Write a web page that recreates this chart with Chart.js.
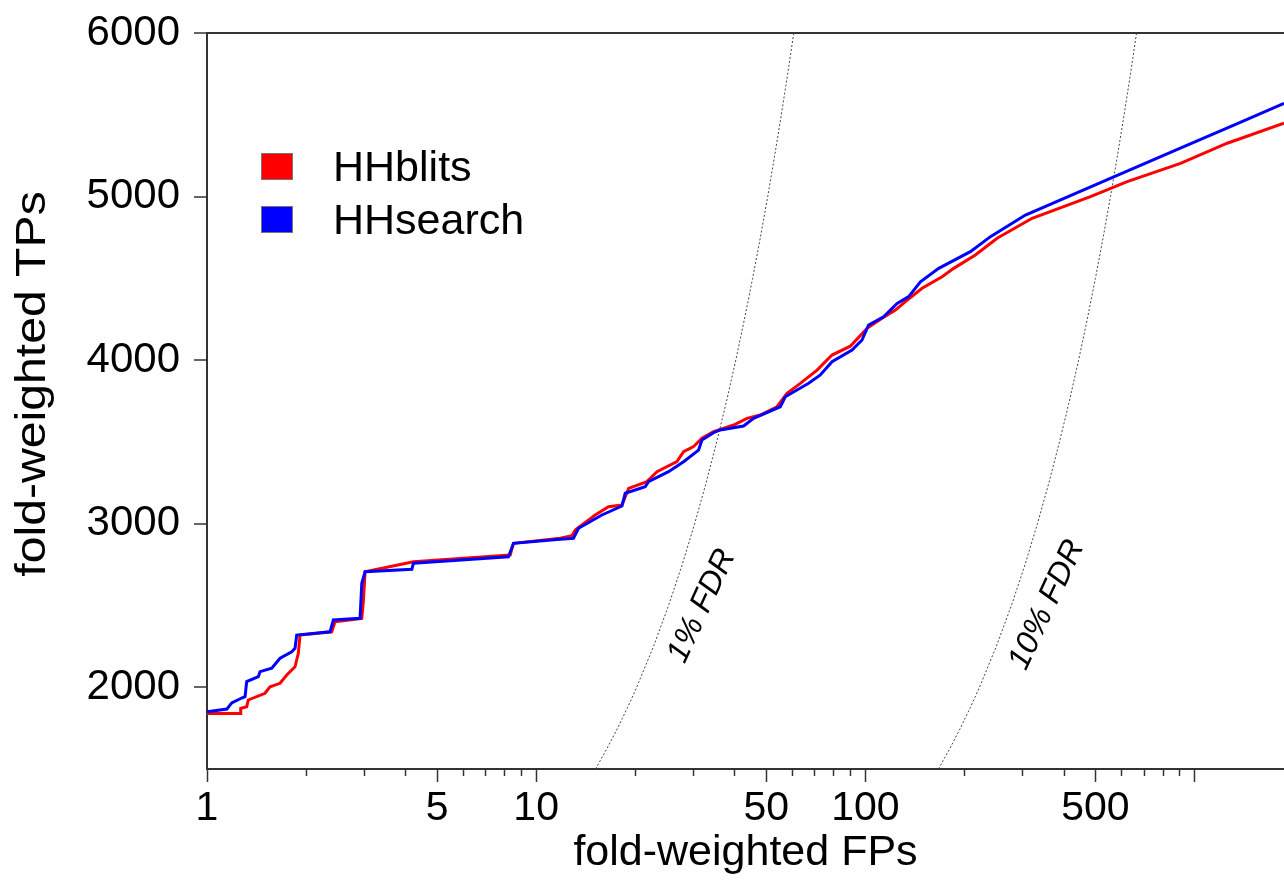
<!DOCTYPE html>
<html>
<head>
<meta charset="utf-8">
<script src="https://cdn.jsdelivr.net/npm/chart.js@4/dist/chart.umd.min.js"></script>
<style>
  html, body { margin: 0; padding: 0; background: #fff; }
  #wrap { width: 1284px; height: 882px; }
</style>
</head>
<body>
<div id="wrap"><canvas id="rocChart" width="1284" height="882"></canvas></div>
<script>
// ROC-like curve: fold-weighted TPs vs fold-weighted FPs (log x)

const fpTicks = [1, 2, 3, 4, 5, 6, 7, 8, 9, 10, 20, 30, 40, 50, 60, 70, 80, 90,
                 100, 200, 300, 400, 500, 600, 700, 800, 900, 1000];
const fpLabeled = [1, 5, 10, 50, 100, 500];
const fpLongTicks = [1, 5, 10, 50, 100, 500, 1000];
const tpTicks = [2000, 3000, 4000, 5000, 6000];

const hhblitsFP = [1, 1.266, 1.266, 1.32, 1.335, 1.50, 1.554, 1.667, 1.747, 1.851,
  1.894, 1.917, 2.393, 2.449, 2.953, 2.987, 3.022, 4.237, 8.337, 8.531,
  11.83, 12.84, 13.14, 15.11, 16.59, 18.22, 19.09, 21.70, 23.28, 26.77,
  28.04, 30.07, 31.89, 34.58, 39.80, 43.70, 47.97, 53.90, 57.81, 63.45,
  71.33, 79.20, 90.0, 101.2, 112.4, 123.4, 132.3, 148.7, 171.1, 185.5,
  215.9, 251.4, 321.1, 483.0, 624.4, 906.6, 1257, 1870];
const hhblitsTP = [1840, 1840, 1871, 1881, 1922, 1963, 2003, 2024, 2075, 2125,
  2207, 2319, 2339, 2401, 2421, 2533, 2706, 2767, 2808, 2880,
  2911, 2926, 2961, 3053, 3104, 3114, 3216, 3257, 3318, 3379,
  3440, 3471, 3522, 3562, 3603, 3644, 3664, 3715, 3797, 3858,
  3939, 4031, 4085, 4194, 4256, 4306, 4357, 4439, 4510, 4561,
  4643, 4745, 4867, 4999, 5091, 5203, 5326, 5448];

const hhsearchFP = [1, 1.150, 1.189, 1.275, 1.305, 1.320, 1.432, 1.449, 1.573, 1.667,
  1.809, 1.851, 1.873, 2.365, 2.420, 2.917, 2.953, 3.022, 4.190, 4.237,
  8.239, 8.531, 11.83, 12.98, 13.45, 15.84, 18.22, 18.64, 21.44, 21.94,
  25.24, 28.04, 31.14, 31.89, 34.58, 36.25, 42.67, 45.77, 55.15, 57.13,
  61.99, 67.25, 72.99, 79.20, 91.12, 97.72, 102.3, 113.6, 124.9, 135.4,
  147.0, 167.1, 208.5, 239.9, 306.4, 568.5, 928.0, 1317, 1870];
const hhsearchTP = [1850, 1867, 1904, 1934, 1942, 2034, 2064, 2095, 2116, 2177,
  2217, 2238, 2319, 2339, 2411, 2421, 2635, 2706, 2721, 2758,
  2798, 2880, 2904, 2911, 2972, 3053, 3108, 3186, 3226, 3257,
  3318, 3379, 3450, 3512, 3556, 3573, 3597, 3644, 3715, 3776,
  3817, 3858, 3909, 3990, 4062, 4123, 4215, 4265, 4347, 4388,
  4479, 4561, 4663, 4755, 4887, 5121, 5305, 5437, 5570];

// FDR reference curves (TP = 99*FP and TP = 9*FP)
const fdrTP = [1500, 1625, 1750, 1875, 2000, 2250, 2500, 2750, 3000, 3250, 3500,
  3750, 4000, 4250, 4500, 4750, 5000, 5250, 5500, 5750, 6000];
const fdr1FP = [15.15, 16.41, 17.68, 18.94, 20.20, 22.73, 25.25, 27.78, 30.30, 32.83, 35.35,
  37.88, 40.40, 42.93, 45.45, 47.98, 50.51, 53.03, 55.56, 58.08, 60.61];
const fdr10FP = [166.7, 180.6, 194.4, 208.3, 222.2, 250.0, 277.8, 305.6, 333.3, 361.1, 388.9,
  416.7, 444.4, 472.2, 500.0, 527.8, 555.6, 583.3, 611.1, 638.9, 666.7];

const FONT = '"Liberation Sans", Arial, Helvetica, sans-serif';
const AXIS = '#333';

const pts = (xs, ys) => xs.map((x, i) => ({ x: x, y: ys[i] }));

const extrasPlugin = {
  id: 'extras',
  afterDraw(chart) {
    const ctx = chart.ctx;
    const xs = chart.scales.x;
    const area = chart.chartArea;

    // short minor ticks on the x axis
    ctx.save();
    ctx.strokeStyle = AXIS;
    ctx.lineWidth = 1.5;
    fpTicks.filter(v => !fpLongTicks.includes(v)).forEach(v => {
      const px = Math.round(xs.getPixelForValue(v)) + 0.5;
      ctx.beginPath();
      ctx.moveTo(px, area.bottom);
      ctx.lineTo(px, area.bottom + 7);
      ctx.stroke();
    });
    ctx.restore();

    // y axis title (slightly stretched along its length, as in the source)
    ctx.save();
    ctx.font = '43px ' + FONT;
    ctx.fillStyle = '#000';
    ctx.textAlign = 'center';
    ctx.textBaseline = 'middle';
    ctx.translate(33, 384);
    ctx.rotate(-Math.PI / 2);
    ctx.scale(1.12, 1);
    ctx.fillText('fold-weighted TPs', 0, 0);
    ctx.restore();

    // legend
    const items = [['HHblits', '#ff0000', 153], ['HHsearch', '#0000ff', 206]];
    ctx.save();
    ctx.font = '43px ' + FONT;
    ctx.textBaseline = 'middle';
    ctx.textAlign = 'left';
    items.forEach(([label, color, top]) => {
      ctx.fillStyle = color;
      ctx.fillRect(261, top, 32, 27);
      ctx.strokeStyle = '#777';
      ctx.lineWidth = 1;
      ctx.strokeRect(261.5, top + 0.5, 31, 26);
      ctx.fillStyle = '#000';
      ctx.fillText(label, 333, top + 16);
    });
    ctx.restore();

    // FDR labels
    ctx.save();
    ctx.font = 'italic 32px ' + FONT;
    ctx.fillStyle = '#000';
    ctx.textAlign = 'center';
    ctx.textBaseline = 'middle';
    [['1% FDR', 702, 606], ['10% FDR', 1047, 605]].forEach(([t, cx, cy]) => {
      ctx.save();
      ctx.translate(cx, cy);
      ctx.rotate(-65 * Math.PI / 180);
      ctx.fillText(t, 0, 0);
      ctx.restore();
    });
    ctx.restore();
  }
};

new Chart(document.getElementById('rocChart').getContext('2d'), {
  type: 'line',
  data: {
    datasets: [
      {
        label: 'HHsearch',
        data: pts(hhsearchFP, hhsearchTP),
        borderColor: '#0000ff',
        borderWidth: 3,
        pointRadius: 0,
        order: 1
      },
      {
        label: 'HHblits',
        data: pts(hhblitsFP, hhblitsTP),
        borderColor: '#ff0000',
        borderWidth: 3,
        pointRadius: 0,
        order: 2
      },
      {
        label: '1% FDR',
        data: pts(fdr1FP, fdrTP),
        borderColor: '#444',
        borderWidth: 1,
        borderDash: [2, 2],
        pointRadius: 0,
        order: 3
      },
      {
        label: '10% FDR',
        data: pts(fdr10FP, fdrTP),
        borderColor: '#444',
        borderWidth: 1,
        borderDash: [2, 2],
        pointRadius: 0,
        order: 4
      }
    ]
  },
  options: {
    responsive: false,
    animation: false,
    layout: { padding: { top: 33, right: 0, bottom: 0, left: 0 } },
    plugins: {
      legend: { display: false },
      tooltip: { enabled: false }
    },
    scales: {
      x: {
        type: 'logarithmic',
        position: 'bottom',
        min: 1,
        max: 1870,
        afterBuildTicks: axis => { axis.ticks = fpTicks.map(v => ({ value: v })); },
        afterFit: axis => { axis.height = 113; axis.paddingLeft = 0; axis.paddingRight = 0; },
        ticks: {
          autoSkip: false,
          maxRotation: 0,
          padding: 2,
          color: '#000',
          font: { family: FONT, size: 41 },
          callback: v => fpLabeled.includes(v) ? String(v) : ''
        },
        grid: {
          drawOnChartArea: false,
          tickLength: 13,
          tickWidth: 1.5,
          tickColor: c => (c.tick && fpLongTicks.includes(c.tick.value)) ? AXIS : 'rgba(0,0,0,0)'
        },
        border: { color: AXIS, width: 2 },
        title: {
          display: true,
          text: 'fold-weighted FPs',
          color: '#000',
          font: { family: FONT, size: 43 },
          padding: { top: 0, bottom: 3 }
        }
      },
      y: {
        type: 'linear',
        min: 1500,
        max: 6000,
        afterBuildTicks: axis => { axis.ticks = tpTicks.map(v => ({ value: v })); },
        afterFit: axis => { axis.width = 207; axis.paddingTop = 0; axis.paddingBottom = 0; },
        ticks: {
          padding: 14,
          color: '#000',
          font: { family: FONT, size: 42 },
          callback: v => String(v)
        },
        grid: {
          drawOnChartArea: true,
          lineWidth: 2,
          color: c => (c.tick && c.tick.value === 6000) ? AXIS : 'rgba(0,0,0,0)',
          tickColor: AXIS,
          tickLength: 13,
          tickWidth: 1.5
        },
        border: { color: AXIS, width: 2 },
        title: { display: false }
      }
    }
  },
  plugins: [extrasPlugin]
});
</script>
</body>
</html>
